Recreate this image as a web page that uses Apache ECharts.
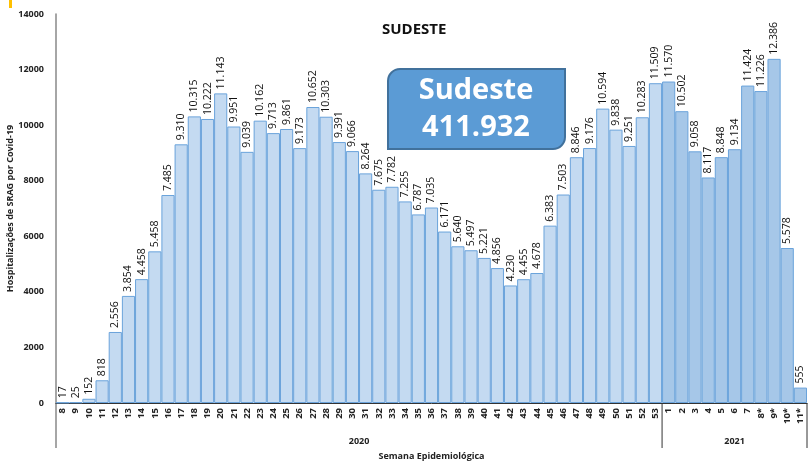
<!DOCTYPE html>
<html>
<head>
<meta charset="utf-8">
<script src="https://cdn.jsdelivr.net/npm/echarts@6/dist/echarts.min.js"></script>
<style>
  html, body { margin: 0; padding: 0; background: #fff; }
  #chart { width: 812px; height: 462px; }
</style>
</head>
<body>
<div id="chart"></div>
<script>
// semanas epidemiologicas
var weeks2020 = ['8','9','10','11','12','13','14','15','16','17','18','19','20','21','22','23','24','25','26','27',
  '28','29','30','31','32','33','34','35','36','37','38','39','40','41','42','43','44','45','46','47',
  '48','49','50','51','52','53'];
var weeks2021 = ['1','2','3','4','5','6','7','8*','9*','10*','11*'];

var hosp2020 = [17, 25, 152, 818, 2556, 3854, 4458, 5458, 7485, 9310, 10315, 10222, 11143, 9951, 9039, 10162,
  9713, 9861, 9173, 10652, 10303, 9391, 9066, 8264, 7675, 7782, 7255, 6787, 7035, 6171, 5640, 5497,
  5221, 4856, 4230, 4455, 4678, 6383, 7503, 8846, 9176, 10594, 9838, 9251, 10283, 11509];
var hosp2021 = [11570, 10502, 9058, 8117, 8848, 9134, 11424, 11226, 12386, 5578, 555];

var years = ['2020', '2021'];
var totalLabel = '411.932';
var yTitle = 'Hospitalizações de SRAG por Covid-19';

function fmt(v) {
  return String(v).replace(/\B(?=(\d{3})+(?!\d))/g, '.');
}

var categories = weeks2020.concat(weeks2021);
var values = hosp2020.concat(hosp2021);
var n2020 = weeks2020.length;

var chart = echarts.init(document.getElementById('chart'));
var font = 'Open Sans, Liberation Sans, sans-serif';

var option = {
  animation: false,
  title: {
    text: 'SUDESTE',
    left: 377,
    top: 17,
    textStyle: { fontSize: 15, fontWeight: 'bold', color: '#111', fontFamily: font }
  },
  grid: { left: 56, right: 5, top: 14, bottom: 59, containLabel: false, outerBoundsMode: 'none' },
  xAxis: {
    type: 'category',
    data: categories,
    name: 'Semana Epidemiológica',
    nameLocation: 'middle',
    nameGap: 49,
    nameTextStyle: { fontSize: 9, fontWeight: 'bold', color: '#222', fontFamily: font },
    axisLine: { lineStyle: { color: '#333', width: 1 } },
    axisTick: { show: false },
    axisLabel: {
      interval: 0, rotate: 90, fontSize: 9.5, fontWeight: 'bold', color: '#222',
      fontFamily: font, margin: 5
    }
  },
  yAxis: {
    type: 'value',
    min: 0, max: 14000, interval: 2000,
    splitLine: { show: false },
    axisLine: { show: true, lineStyle: { color: '#888', width: 1.5 } },
    axisTick: { show: false },
    axisLabel: {
      fontSize: 9, fontWeight: 'bold', color: '#222', fontFamily: font, margin: 12,
      formatter: function (v) { return String(v); }
    }
  },
  series: [{
    type: 'bar',
    data: values,
    barCategoryGap: '0%',
    itemStyle: {
      color: function (p) { return p.dataIndex >= n2020 ? '#a6c7e8' : '#c4daf1'; },
      borderColor: '#6aa3db',
      borderWidth: 1
    },
    label: {
      show: true,
      position: 'top',
      rotate: 90,
      align: 'left',
      verticalAlign: 'middle',
      distance: 4,
      fontSize: 10.5,
      color: '#111',
      fontFamily: font,
      formatter: function (p) { return fmt(p.value); }
    }
  }]
};
chart.setOption(option);

// separadores de ano e rotulos de ano, a partir do eixo
var x0 = chart.convertToPixel({ xAxisIndex: 0 }, 0);
var x1 = chart.convertToPixel({ xAxisIndex: 0 }, 1);
var half = (x1 - x0) / 2;
var left = x0 - half;
var mid = chart.convertToPixel({ xAxisIndex: 0 }, n2020) - half;
var right = chart.convertToPixel({ xAxisIndex: 0 }, categories.length - 1) + half;
var yZero = chart.convertToPixel({ yAxisIndex: 0 }, 0);
var yTop = chart.convertToPixel({ yAxisIndex: 0 }, 14000);
var yEnd = yZero + 45;

var sepStyle = { stroke: '#333', lineWidth: 1 };
var txt = { fontSize: 9, fontWeight: 'bold', fill: '#222', align: 'center', verticalAlign: 'middle', fontFamily: font };
chart.setOption({
  graphic: [
    { type: 'line', shape: { x1: left, y1: yZero, x2: left, y2: yEnd }, style: { stroke: '#888', lineWidth: 1.5 } },
    { type: 'line', shape: { x1: mid, y1: yZero, x2: mid, y2: yEnd }, style: sepStyle },
    { type: 'line', shape: { x1: right, y1: yZero, x2: right, y2: yEnd }, style: sepStyle },
    { type: 'text', x: (left + mid) / 2, y: yZero + 38, style: Object.assign({ text: years[0] }, txt) },
    { type: 'text', x: (mid + right) / 2, y: yZero + 38, style: Object.assign({ text: years[1] }, txt) },
    { type: 'text', x: 10, y: (yTop + yZero) / 2, rotation: Math.PI / 2, style: Object.assign({ text: yTitle }, txt) },
    // caixa com total
    { type: 'rect', x: 388, y: 69, z: 10,
      shape: { width: 177, height: 80, r: [12, 0, 12, 0] },
      style: { fill: '#5b9bd5', stroke: '#41719c', lineWidth: 2 } },
    { type: 'text', x: 476, y: 109, z: 11,
      style: { text: 'Sudeste\n' + totalLabel, fontSize: 29, fontWeight: 'bold', fill: '#fff', align: 'center',
        verticalAlign: 'middle', lineHeight: 37, fontFamily: font } },
    { type: 'rect', x: 9, y: 0, shape: { width: 3, height: 8 }, style: { fill: '#ffc000' } }
  ]
});
</script>
</body>
</html>
